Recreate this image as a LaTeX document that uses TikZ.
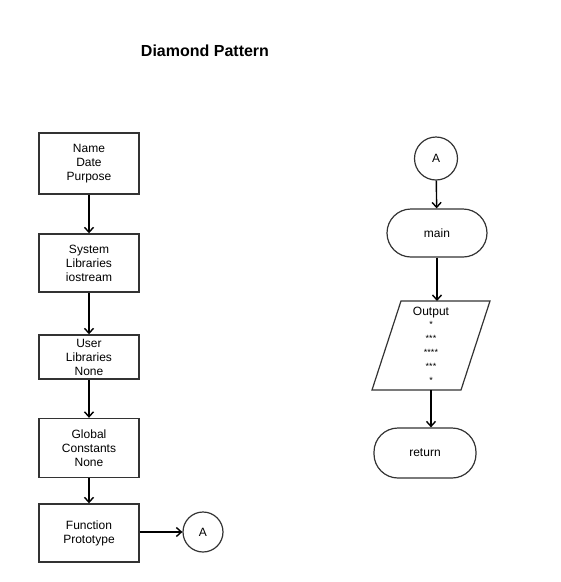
\documentclass[tikz,border=0pt]{standalone}
\usepackage{fontspec}
\setmainfont{Liberation Sans}
\usetikzlibrary{arrows.meta}
\definecolor{edge}{HTML}{333333}
\newcommand{\starline}[1]{{\fontsize{9}{14}\selectfont #1}}
\begin{document}
\begin{tikzpicture}[x=1pt,y=-1pt,
  every node/.style={font=\fontsize{12}{14}\selectfont, align=center, inner sep=0pt},
  procbox/.style={draw=edge, line width=1.4pt, minimum width=100pt},
  term/.style={draw=edge, line width=1.2pt, minimum width=100pt, rounded corners=24pt},
  conn/.style={draw=edge, line width=1.2pt, circle, minimum size=43pt},
  flow/.style={draw=black, line width=1.4pt, -{Straight Barb[length=5pt,width=9pt,line width=1.4pt]}}]
\useasboundingbox (0,0) rectangle (561,582);
\node[font=\fontsize{16}{18}\selectfont\bfseries] (title) at (205,51) {Diamond Pattern};
% left column
\node[procbox, minimum height=61pt] (b1) at (89,163.5) {Name\\Date\\Purpose};
\node[procbox, minimum height=58pt] (b2) at (89,263) {System\\Libraries\\iostream};
\node[procbox, minimum height=44pt] (b3) at (89,357) {User\\Libraries\\None};
\node[procbox, minimum height=59pt] (b4) at (89,448) {Global\\Constants\\None};
\node[procbox, minimum height=58pt] (b5) at (89,533) {Function\\Prototype};
\node[conn, minimum size=40pt] (a1) at (203,532) {A};
\draw[flow] (b1) -- (b2);
\draw[flow] (b2) -- (b3);
\draw[flow] (b3) -- (b4);
\draw[flow] (b4) -- (b5);
\draw[flow] (b5.east |- a1) -- (a1);
% right column
\node[conn] (a2) at (436,158.5) {A};
\node[term, minimum height=48pt] (main) at (437,233) {main};
\draw[draw=edge, line width=1.2pt] (401,301) -- (490,301) -- (461,390) -- (372,390) -- cycle;
\coordinate (ptop) at (437,301);
\coordinate (pbot) at (431,390);
\node (out) at (431,345) {Output\\[-2pt]\starline{*}\\\starline{***}\\\starline{****}\\\starline{***}\\\starline{*}};
\node[term, minimum width=102pt, minimum height=50pt] (ret) at (425,453) {return};
\draw[flow] (a2) -- (main);
\draw[flow] (main) -- (ptop);
\draw[flow] (pbot) -- (pbot |- ret.north);
\end{tikzpicture}
\end{document}
